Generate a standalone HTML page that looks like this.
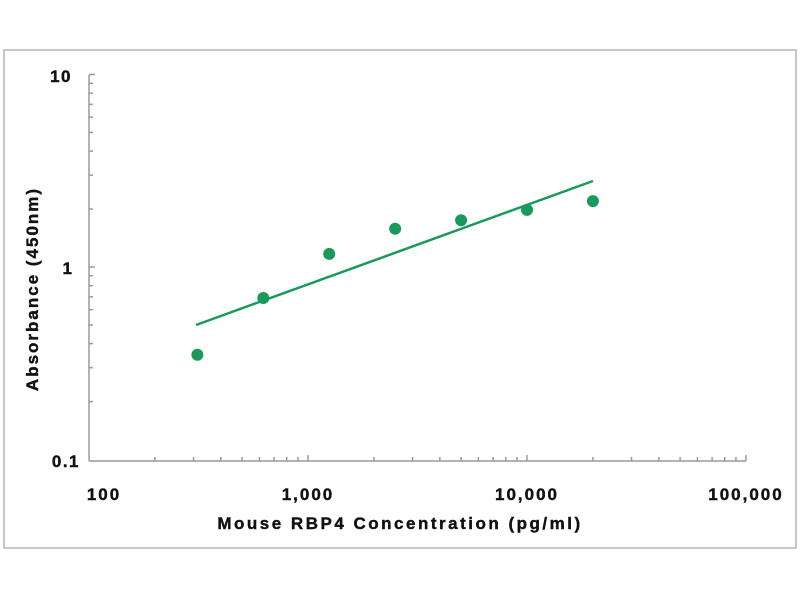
<!DOCTYPE html>
<html><head><meta charset="utf-8"><style>
html,body{margin:0;padding:0;background:#fff;width:800px;height:600px;overflow:hidden}
svg{display:block}
text{font-family:"Liberation Sans",Arial,sans-serif;font-weight:bold;fill:#111;stroke:#111;stroke-width:0.4}
</style></head><body>
<svg id="s" width="800" height="600" xmlns="http://www.w3.org/2000/svg">
<rect x="4" y="50" width="792" height="498" fill="none" stroke="#c8c8c8" stroke-width="2"/>
<g id="ax" stroke="#9a9a9a" stroke-width="1.5" fill="none">
<line x1="89" y1="75" x2="89" y2="461"/>
<line x1="89" y1="461" x2="746" y2="461"/>
</g>
<text x="72" y="82" font-size="17" text-anchor="end" letter-spacing="1.5">10</text>
<text x="72" y="274" font-size="17" text-anchor="end">1</text>
<text x="80" y="467" font-size="17" text-anchor="end" letter-spacing="1.5">0.1</text>
<text x="104" y="500" font-size="17" text-anchor="middle" letter-spacing="2">100</text>
<text x="308" y="500" font-size="17" text-anchor="middle" letter-spacing="2">1,000</text>
<text x="527" y="500" font-size="17" text-anchor="middle" letter-spacing="2">10,000</text>
<text x="746" y="500" font-size="17" text-anchor="middle" letter-spacing="2">100,000</text>
<text x="400" y="529" font-size="17" text-anchor="middle" letter-spacing="2.5">Mouse RBP4  Concentration (pg/ml)</text>
<text transform="translate(38,289) rotate(-90)" font-size="17" text-anchor="middle" letter-spacing="2">Absorbance (450nm)</text>
<line x1="196" y1="325" x2="593" y2="181" stroke="#1a9a5a" stroke-width="2.5"/>
<g fill="#1a9a5a" id="pts"></g>
</svg>
<script>
var ax=document.getElementById('ax'),ns='http://www.w3.org/2000/svg';
function L(a,b,c,d){var l=document.createElementNS(ns,'line');l.setAttribute('x1',a);l.setAttribute('y1',b);l.setAttribute('x2',c);l.setAttribute('y2',d);ax.appendChild(l);}
var X=function(v){return 89+219*Math.log10(v/100)},Y=function(v){return 267-192.5*Math.log10(v)};
for(var d=0;d<3;d++)for(var k=2;k<=10;k++){var x=X(100*Math.pow(10,d)*k);L(x,461,x,k==10?455:457);}
for(var d=0;d<2;d++)for(var k=2;k<=10;k++){var y=Y(0.1*Math.pow(10,d)*k);L(89,y,k==10?95:93,y);}
var p=document.getElementById('pts');
[[312.5,0.35],[625,0.69],[1250,1.17],[2500,1.58],[5000,1.75],[10000,1.98],[20000,2.2]].forEach(function(q){var c=document.createElementNS(ns,'circle');c.setAttribute('cx',X(q[0]));c.setAttribute('cy',Y(q[1]));c.setAttribute('r',6);p.appendChild(c);});
</script>
</body></html>
